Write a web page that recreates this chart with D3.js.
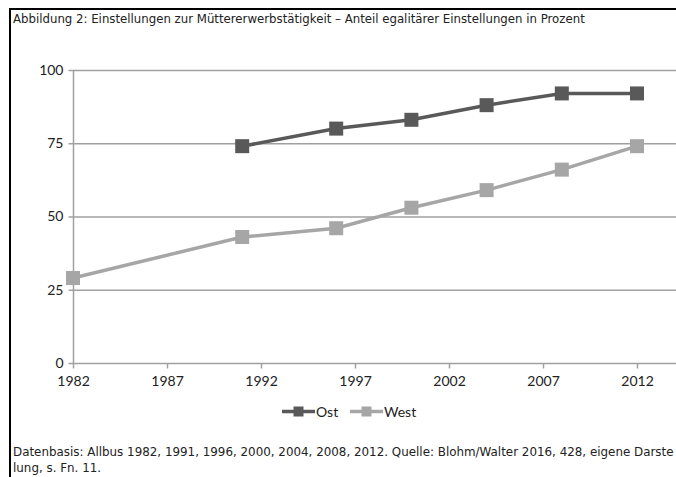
<!DOCTYPE html>
<html><head><meta charset="utf-8">
<script src="https://cdn.jsdelivr.net/npm/d3@7"></script>
<style>body{margin:0;background:#fff}svg{display:block}</style>
</head><body>
<svg id="c" width="676" height="477"></svg>
<script>
const years = [1982, 1991, 1996, 2000, 2004, 2008, 2012];
const ost = [null, 74, 80, 83, 88, 92, 92];
const west = [29, 43, 46, 53, 59, 66, 74];
const xTicks = [1982, 1987, 1992, 1997, 2002, 2007, 2012];
const yTicks = [0, 25, 50, 75, 100];
const seriesNames = ["Ost", "West"];
const seriesColors = ["#595959", "#a6a6a6"];

const svg = d3.select("#c");
// frame
svg.append("path").attr("d","M10,480 L10,9 L680,9").attr("fill","none").attr("stroke","#000").attr("stroke-width",2);

svg.append("text").attr("x",13).attr("y",23).attr("font-family","DejaVu Sans, Verdana, sans-serif")
  .attr("font-size",11.75).attr("fill","#222")
  .text("Abbildung 2: Einstellungen zur Müttererwerbstätigkeit – Anteil egalitärer Einstellungen in Prozent");

const x = d3.scaleLinear().domain([1982, 2012]).range([73, 637]);
const y = d3.scaleLinear().domain([0, 100]).range([363, 70]);
const tickFont = "Lato, Open Sans, sans-serif";

// gridlines
svg.append("g").selectAll("line").data(yTicks.filter(d=>d>0)).join("line")
  .attr("x1",73).attr("x2",676).attr("y1",d=>y(d)+0.5).attr("y2",d=>y(d)+0.5)
  .attr("stroke","#a0a0a0").attr("stroke-width",1.5);

// y axis
const ya = svg.append("g").attr("transform","translate(73.5,0)")
  .call(d3.axisLeft(y).tickValues(yTicks).tickSize(5).tickPadding(5));
ya.select(".domain").attr("stroke","#a0a0a0").attr("stroke-width",1.5).attr("d","M0,"+y(100)+"V"+y(0));
ya.selectAll(".tick line").attr("stroke","#a0a0a0").attr("stroke-width",1.5);
ya.selectAll("text").attr("font-family",tickFont).attr("font-size",14).attr("fill","#222");

// x axis
const xa = svg.append("g").attr("transform","translate(0,"+(y(0)+0.5)+")")
  .call(d3.axisBottom(x).tickValues(xTicks).tickFormat(d3.format("d")).tickSize(5).tickPadding(8));
xa.select(".domain").attr("stroke","#a0a0a0").attr("stroke-width",1.5).attr("d","M73,0H676");
xa.selectAll(".tick line").attr("stroke","#a0a0a0").attr("stroke-width",1.5);
xa.selectAll("text").attr("font-family",tickFont).attr("font-size",14).attr("fill","#222");

const series = [ost, west];
const line = d3.line().defined(d=>d.v!=null).x(d=>x(d.t)).y(d=>y(d.v));
series.forEach((vals, i) => {
  const pts = years.map((t,j)=>({t, v: vals[j]}));
  svg.append("path").datum(pts).attr("d", line).attr("fill","none")
    .attr("stroke", seriesColors[i]).attr("stroke-width",3.5);
  svg.append("g").selectAll("rect").data(pts.filter(d=>d.v!=null)).join("rect")
    .attr("x",d=>x(d.t)-7).attr("y",d=>y(d.v)-7).attr("width",14).attr("height",14)
    .attr("fill", seriesColors[i]);
});

// legend
const lg = svg.append("g");
const legX = [282, 350];
seriesNames.forEach((n,i)=>{
  const g = lg.append("g").attr("transform","translate("+legX[i]+",411.5)");
  g.append("line").attr("x1",0).attr("x2",33).attr("stroke",seriesColors[i]).attr("stroke-width",3.5);
  g.append("rect").attr("x",11.5).attr("y",-5).attr("width",10).attr("height",10).attr("fill",seriesColors[i]);
  g.append("text").attr("x",34).attr("y",5.5).attr("font-family",tickFont)
    .attr("font-size",14).attr("fill","#222").text(n);
});

const foot = svg.append("g").attr("font-family","DejaVu Sans, Verdana, sans-serif").attr("font-size",11.9).attr("fill","#222");
foot.append("text").attr("x",13).attr("y",456).text("Datenbasis: Allbus 1982, 1991, 1996, 2000, 2004, 2008, 2012. Quelle: Blohm/Walter 2016, 428, eigene Darste");
foot.append("text").attr("x",13).attr("y",472).text("lung, s. Fn. 11.");
</script>
</body></html>
